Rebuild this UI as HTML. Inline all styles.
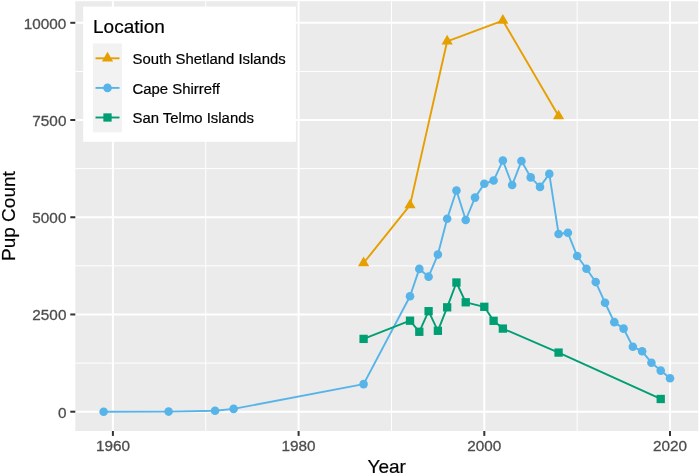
<!DOCTYPE html>
<html><head><meta charset="utf-8"><style>
html,body{margin:0;padding:0;background:#fff;}
svg{display:block;}
text{font-family:"Liberation Sans",sans-serif;}
.txt{filter:grayscale(1);}
.tk{font-size:15.3px;fill:#4D4D4D;stroke:#4D4D4D;stroke-width:0.3px;}
.lg{font-size:14.9px;fill:#000;stroke:#000;stroke-width:0.2px;}
.ti{font-size:19px;fill:#000;stroke:#000;stroke-width:0.2px;}
</style></head><body>
<svg width="700" height="475" viewBox="0 0 700 475">
<rect x="75.3" y="1.2" width="622.90" height="429.80" fill="#EBEBEB"/>
<line x1="75.3" x2="698.2" y1="363.09" y2="363.09" stroke="#fff" stroke-width="1.0"/>
<line x1="75.3" x2="698.2" y1="265.86" y2="265.86" stroke="#fff" stroke-width="1.0"/>
<line x1="75.3" x2="698.2" y1="168.64" y2="168.64" stroke="#fff" stroke-width="1.0"/>
<line x1="75.3" x2="698.2" y1="71.41" y2="71.41" stroke="#fff" stroke-width="1.0"/>
<line y1="1.2" y2="431.0" x1="205.75" x2="205.75" stroke="#fff" stroke-width="1.0"/>
<line y1="1.2" y2="431.0" x1="391.45" x2="391.45" stroke="#fff" stroke-width="1.0"/>
<line y1="1.2" y2="431.0" x1="577.15" x2="577.15" stroke="#fff" stroke-width="1.0"/>
<line x1="75.3" x2="698.2" y1="411.70" y2="411.70" stroke="#fff" stroke-width="2.0"/>
<line x1="75.3" x2="698.2" y1="314.47" y2="314.47" stroke="#fff" stroke-width="2.0"/>
<line x1="75.3" x2="698.2" y1="217.25" y2="217.25" stroke="#fff" stroke-width="2.0"/>
<line x1="75.3" x2="698.2" y1="120.02" y2="120.02" stroke="#fff" stroke-width="2.0"/>
<line x1="75.3" x2="698.2" y1="22.80" y2="22.80" stroke="#fff" stroke-width="2.0"/>
<line y1="1.2" y2="431.0" x1="112.90" x2="112.90" stroke="#fff" stroke-width="2.0"/>
<line y1="1.2" y2="431.0" x1="298.60" x2="298.60" stroke="#fff" stroke-width="2.0"/>
<line y1="1.2" y2="431.0" x1="484.30" x2="484.30" stroke="#fff" stroke-width="2.0"/>
<line y1="1.2" y2="431.0" x1="670.00" x2="670.00" stroke="#fff" stroke-width="2.0"/>
<polyline points="363.60,263.02 410.02,205.12 447.16,41.31 502.87,20.58 558.58,116.10" fill="none" stroke="#E69F00" stroke-width="1.9" stroke-linejoin="round" stroke-linecap="butt"/>
<polyline points="103.62,411.70 168.61,411.58 215.04,410.69 233.61,408.90 363.60,384.09 410.02,296.27 419.31,268.90 428.59,276.67 437.88,254.58 447.16,218.69 456.45,190.49 465.73,220.01 475.01,197.61 484.30,183.73 493.59,180.54 502.87,160.55 512.15,185.05 521.44,161.05 530.73,177.39 540.01,186.88 549.29,173.89 558.58,233.97 567.87,232.81 577.15,256.02 586.44,268.70 595.72,282.08 605.00,302.73 614.29,322.14 623.58,328.63 632.86,346.71 642.14,351.30 651.43,362.70 660.72,370.59 670.00,378.22" fill="none" stroke="#56B4E9" stroke-width="1.9" stroke-linejoin="round" stroke-linecap="butt"/>
<polyline points="363.60,338.90 410.02,320.70 419.31,331.78 428.59,311.17 437.88,330.81 447.16,307.32 456.45,282.51 465.73,302.30 484.30,306.81 493.59,320.81 502.87,328.59 558.58,352.59 660.72,398.98" fill="none" stroke="#009E73" stroke-width="1.9" stroke-linejoin="round" stroke-linecap="butt"/>
<polygon points="363.60,256.56 369.20,266.26 358.00,266.26" fill="#E69F00"/>
<polygon points="410.02,198.65 415.62,208.35 404.42,208.35" fill="#E69F00"/>
<polygon points="447.16,34.85 452.76,44.54 441.56,44.54" fill="#E69F00"/>
<polygon points="502.87,14.12 508.47,23.82 497.27,23.82" fill="#E69F00"/>
<polygon points="558.58,109.63 564.18,119.33 552.98,119.33" fill="#E69F00"/>
<circle cx="103.62" cy="411.70" r="4.3" fill="#56B4E9"/>
<circle cx="168.61" cy="411.58" r="4.3" fill="#56B4E9"/>
<circle cx="215.04" cy="410.69" r="4.3" fill="#56B4E9"/>
<circle cx="233.61" cy="408.90" r="4.3" fill="#56B4E9"/>
<circle cx="363.60" cy="384.09" r="4.3" fill="#56B4E9"/>
<circle cx="410.02" cy="296.27" r="4.3" fill="#56B4E9"/>
<circle cx="419.31" cy="268.90" r="4.3" fill="#56B4E9"/>
<circle cx="428.59" cy="276.67" r="4.3" fill="#56B4E9"/>
<circle cx="437.88" cy="254.58" r="4.3" fill="#56B4E9"/>
<circle cx="447.16" cy="218.69" r="4.3" fill="#56B4E9"/>
<circle cx="456.45" cy="190.49" r="4.3" fill="#56B4E9"/>
<circle cx="465.73" cy="220.01" r="4.3" fill="#56B4E9"/>
<circle cx="475.01" cy="197.61" r="4.3" fill="#56B4E9"/>
<circle cx="484.30" cy="183.73" r="4.3" fill="#56B4E9"/>
<circle cx="493.59" cy="180.54" r="4.3" fill="#56B4E9"/>
<circle cx="502.87" cy="160.55" r="4.3" fill="#56B4E9"/>
<circle cx="512.15" cy="185.05" r="4.3" fill="#56B4E9"/>
<circle cx="521.44" cy="161.05" r="4.3" fill="#56B4E9"/>
<circle cx="530.73" cy="177.39" r="4.3" fill="#56B4E9"/>
<circle cx="540.01" cy="186.88" r="4.3" fill="#56B4E9"/>
<circle cx="549.29" cy="173.89" r="4.3" fill="#56B4E9"/>
<circle cx="558.58" cy="233.97" r="4.3" fill="#56B4E9"/>
<circle cx="567.87" cy="232.81" r="4.3" fill="#56B4E9"/>
<circle cx="577.15" cy="256.02" r="4.3" fill="#56B4E9"/>
<circle cx="586.44" cy="268.70" r="4.3" fill="#56B4E9"/>
<circle cx="595.72" cy="282.08" r="4.3" fill="#56B4E9"/>
<circle cx="605.00" cy="302.73" r="4.3" fill="#56B4E9"/>
<circle cx="614.29" cy="322.14" r="4.3" fill="#56B4E9"/>
<circle cx="623.58" cy="328.63" r="4.3" fill="#56B4E9"/>
<circle cx="632.86" cy="346.71" r="4.3" fill="#56B4E9"/>
<circle cx="642.14" cy="351.30" r="4.3" fill="#56B4E9"/>
<circle cx="651.43" cy="362.70" r="4.3" fill="#56B4E9"/>
<circle cx="660.72" cy="370.59" r="4.3" fill="#56B4E9"/>
<circle cx="670.00" cy="378.22" r="4.3" fill="#56B4E9"/>
<rect x="359.45" y="334.75" width="8.3" height="8.3" fill="#009E73"/>
<rect x="405.87" y="316.55" width="8.3" height="8.3" fill="#009E73"/>
<rect x="415.16" y="327.63" width="8.3" height="8.3" fill="#009E73"/>
<rect x="424.44" y="307.02" width="8.3" height="8.3" fill="#009E73"/>
<rect x="433.73" y="326.66" width="8.3" height="8.3" fill="#009E73"/>
<rect x="443.01" y="303.17" width="8.3" height="8.3" fill="#009E73"/>
<rect x="452.30" y="278.36" width="8.3" height="8.3" fill="#009E73"/>
<rect x="461.58" y="298.15" width="8.3" height="8.3" fill="#009E73"/>
<rect x="480.15" y="302.66" width="8.3" height="8.3" fill="#009E73"/>
<rect x="489.44" y="316.66" width="8.3" height="8.3" fill="#009E73"/>
<rect x="498.72" y="324.44" width="8.3" height="8.3" fill="#009E73"/>
<rect x="554.43" y="348.44" width="8.3" height="8.3" fill="#009E73"/>
<rect x="656.57" y="394.83" width="8.3" height="8.3" fill="#009E73"/>
<line x1="70.3" x2="75.3" y1="411.70" y2="411.70" stroke="#333333" stroke-width="2"/>
<line x1="70.3" x2="75.3" y1="314.47" y2="314.47" stroke="#333333" stroke-width="2"/>
<line x1="70.3" x2="75.3" y1="217.25" y2="217.25" stroke="#333333" stroke-width="2"/>
<line x1="70.3" x2="75.3" y1="120.02" y2="120.02" stroke="#333333" stroke-width="2"/>
<line x1="70.3" x2="75.3" y1="22.80" y2="22.80" stroke="#333333" stroke-width="2"/>
<line y1="431.0" y2="435.9" x1="112.90" x2="112.90" stroke="#333333" stroke-width="2"/>
<line y1="431.0" y2="435.9" x1="298.60" x2="298.60" stroke="#333333" stroke-width="2"/>
<line y1="431.0" y2="435.9" x1="484.30" x2="484.30" stroke="#333333" stroke-width="2"/>
<line y1="431.0" y2="435.9" x1="670.00" x2="670.00" stroke="#333333" stroke-width="2"/>
<rect x="83.2" y="6.6" width="212.70" height="135.20" fill="#fff"/>
<rect x="93.0" y="43.5" width="29.00" height="88.80" fill="#F2F2F2"/>
<line x1="95.50" x2="119.50" y1="58.30" y2="58.30" stroke="#E69F00" stroke-width="1.9"/>
<polygon points="107.50,51.83 113.10,61.53 101.90,61.53" fill="#E69F00"/>
<line x1="95.50" x2="119.50" y1="87.90" y2="87.90" stroke="#56B4E9" stroke-width="1.9"/>
<circle cx="107.50" cy="87.90" r="4.3" fill="#56B4E9"/>
<line x1="95.50" x2="119.50" y1="117.50" y2="117.50" stroke="#009E73" stroke-width="1.9"/>
<rect x="103.35" y="113.35" width="8.3" height="8.3" fill="#009E73"/>
<g class="txt">
<text x="66.4" y="417.60" text-anchor="end" class="tk">0</text>
<text x="66.4" y="320.37" text-anchor="end" class="tk">2500</text>
<text x="66.4" y="223.15" text-anchor="end" class="tk">5000</text>
<text x="66.4" y="125.92" text-anchor="end" class="tk">7500</text>
<text x="66.4" y="28.70" text-anchor="end" class="tk">10000</text>
<text x="112.90" y="450.7" text-anchor="middle" class="tk">1960</text>
<text x="298.60" y="450.7" text-anchor="middle" class="tk">1980</text>
<text x="484.30" y="450.7" text-anchor="middle" class="tk">2000</text>
<text x="670.00" y="450.7" text-anchor="middle" class="tk">2020</text>
<text x="386.75" y="473.0" text-anchor="middle" class="ti">Year</text>
<text transform="translate(15.3,216.10) rotate(-90)" text-anchor="middle" class="ti">Pup Count</text>
<text x="93.0" y="32.7" class="ti">Location</text>
<text x="132.5" y="64.20" class="lg">South Shetland Islands</text>
<text x="132.5" y="93.80" class="lg">Cape Shirreff</text>
<text x="132.5" y="123.40" class="lg">San Telmo Islands</text>
</g>
</svg>
</body></html>
